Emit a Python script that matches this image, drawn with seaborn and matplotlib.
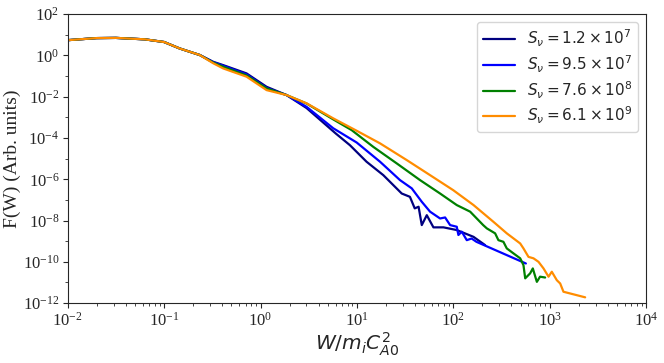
import numpy as np
import pandas as pd
import matplotlib
import matplotlib.pyplot as plt
from matplotlib.font_manager import FontProperties
import seaborn as sns

sns.set_style("ticks")
plt.rcParams["font.family"] = ["Liberation Serif", "DejaVu Serif"]
plt.rcParams["mathtext.fontset"] = "stix"

# values, stored as decade exponents (log10)
shared_w = [-2.0, -1.7, -1.5, -1.2, -1.0, -0.84, -0.63]
shared_f = [0.74, 0.84, 0.85, 0.78, 0.65, 0.34, 0.02]

navy_w = [-0.49, -0.387, -0.145, 0.063, 0.27, 0.478, 0.78, 0.928, 1.10, 1.274, 1.465,
          1.55, 1.60, 1.64, 1.673, 1.725, 1.794, 1.898, 2.036, 2.21, 2.33]
navy_f = [-0.31, -0.47, -0.87, -1.52, -1.92, -2.55, -3.78, -4.35, -5.15, -5.80, -6.69,
          -6.85, -7.41, -7.33, -8.22, -7.74, -8.33, -8.33, -8.46, -8.79, -9.19]

blue_w = [-0.49, -0.387, -0.145, 0.063, 0.27, 0.478, 0.755, 0.998, 1.24, 1.447, 1.569,
          1.673, 1.759, 1.863, 1.915, 1.967, 2.036, 2.053, 2.088, 2.14, 2.19, 2.24, 2.753]
blue_f = [-0.33, -0.50, -0.92, -1.58, -1.92, -2.49, -3.53, -4.22, -5.15, -6.04, -6.44,
          -7.09, -7.57, -7.90, -7.85, -8.22, -8.30, -8.70, -8.54, -8.95, -8.87, -9.03, -10.08]

green_w = [-0.49, -0.387, -0.145, 0.063, 0.27, 0.478, 0.755, 0.946, 1.17, 1.413, 1.655,
           1.863, 2.036, 2.175, 2.31, 2.348, 2.434, 2.468, 2.52, 2.555, 2.624, 2.694,
           2.728, 2.746, 2.797, 2.825, 2.867, 2.90, 2.953]
green_f = [-0.35, -0.55, -0.97, -1.60, -1.92, -2.33, -3.10, -3.62, -4.43, -5.23, -6.04,
           -6.69, -7.25, -7.57, -8.22, -8.38, -8.62, -8.95, -9.03, -9.35, -9.59, -9.83,
           -10.16, -10.80, -10.56, -10.32, -10.97, -10.72, -10.76]

orange_w = [-0.49, -0.387, -0.145, 0.063, 0.27, 0.478, 0.755, 0.998, 1.24, 1.517, 1.759,
            2.0, 2.21, 2.416, 2.555, 2.694, 2.728, 2.78, 2.832, 2.884, 2.936, 2.988,
            3.022, 3.074, 3.109, 3.143, 3.368]
orange_f = [-0.38, -0.63, -1.03, -1.68, -1.92, -2.32, -3.05, -3.65, -4.26, -5.07, -5.80,
            -6.53, -7.25, -8.06, -8.62, -9.11, -9.35, -9.76, -9.83, -10.0, -10.32, -10.72,
            -10.48, -10.89, -11.05, -11.45, -11.72]

labels = [r"$S_\nu = 1.2 \times 10^7$", r"$S_\nu = 9.5 \times 10^7$",
          r"$S_\nu = 7.6 \times 10^8$", r"$S_\nu = 6.1 \times 10^9$"]
colors = ["navy", "blue", "green", "darkorange"]

series = [(navy_w, navy_f), (blue_w, blue_f), (green_w, green_f), (orange_w, orange_f)]
frames = []
for lab, (w, f) in zip(labels, series):
    frames.append(pd.DataFrame({
        "W": 10.0 ** np.array(shared_w + w),
        "F": 10.0 ** np.array(shared_f + f),
        "run": lab,
    }))
df = pd.concat(frames, ignore_index=True)

fig, ax = plt.subplots(figsize=(6.64, 3.63), dpi=100)
fig.subplots_adjust(left=0.102, right=0.973, top=0.961, bottom=0.165)

sns.lineplot(data=df, x="W", y="F", hue="run", palette=colors, estimator=None,
             sort=False, linewidth=1.6, ax=ax)

ax.set_xscale("log")
ax.set_yscale("log")
ax.set_xlim(1e-2, 1e4)
ax.set_ylim(1e-12, 1e2)
ax.set_yticks([10.0 ** k for k in range(-12, 3, 2)])
ax.yaxis.set_minor_locator(matplotlib.ticker.LogLocator(base=10, subs=(1.0,), numticks=20))
ax.yaxis.set_minor_formatter(matplotlib.ticker.NullFormatter())
ax.tick_params(axis="both", which="major", labelsize=12, length=3.5, pad=2.5)
ax.tick_params(axis="both", which="minor", length=2)

ax.set_ylabel("F(W) (Arb. units)", fontsize=14, labelpad=1)
ax.set_xlabel(r"$W/m_iC_{A0}^2$", labelpad=1,
              fontproperties=FontProperties(family="DejaVu Sans", size=14.5,
                                            math_fontfamily="dejavusans"))

ax.legend(title=None, loc="upper right", frameon=True,
          prop=FontProperties(family="DejaVu Sans", size=11, math_fontfamily="dejavusans"),
          handlelength=2.1, borderpad=0.4, labelspacing=0.28)

fig.savefig("out.png", dpi=100)
